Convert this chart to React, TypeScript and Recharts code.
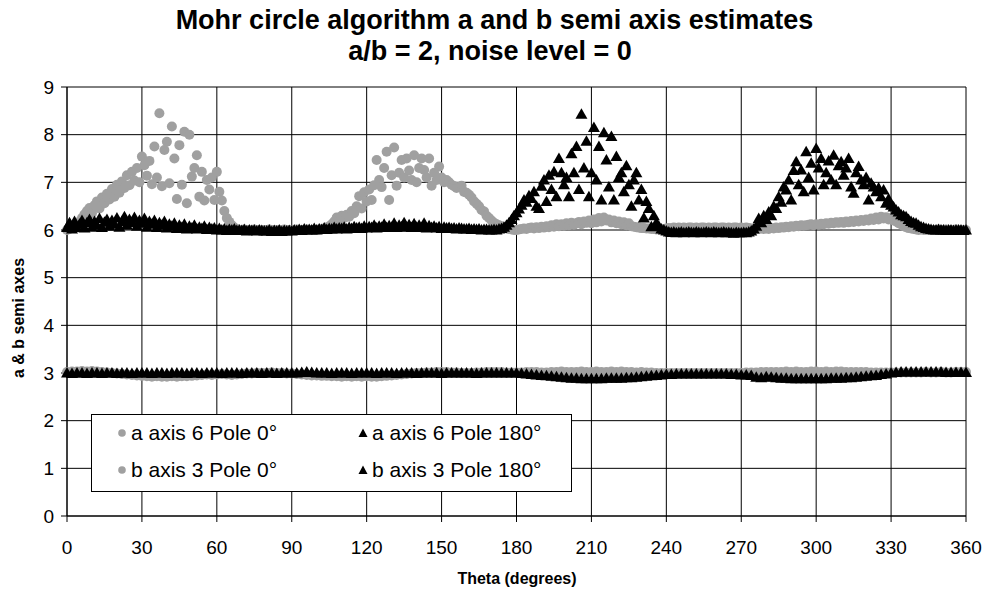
import React from 'react';
import { ScatterChart, Scatter, XAxis, YAxis, CartesianGrid, Legend } from 'recharts';

// theta categories: a series every degree, b series every 2 degrees
const thetaA: number[] = [];
for (let t = 0; t <= 360; t++) thetaA.push(t);
const thetaB: number[] = [];
for (let t = 0; t <= 360; t += 2) thetaB.push(t);

const xTicks = [0, 30, 60, 90, 120, 150, 180, 210, 240, 270, 300, 330, 360];
const yTicks = [0, 1, 2, 3, 4, 5, 6, 7, 8, 9];

// a axis 6, Pole 0 deg (grey circles)
const aPole0 = [
  6.00, 6.02, 6.04, 6.08, 6.12, 6.18, 6.25, 6.33, 6.40, 6.46,
  6.35, 6.52, 6.60, 6.45, 6.68, 6.56, 6.76, 6.64, 6.86, 6.70,
  6.95, 6.78, 7.02, 6.88, 7.15, 6.94, 7.22, 7.04, 7.30, 7.00,
  7.54, 7.36, 7.14, 7.45, 6.96, 7.75, 7.10, 8.45, 6.92, 7.68,
  7.85, 6.98, 8.17, 7.50, 6.65, 7.78, 6.95, 8.06, 6.56, 8.00,
  7.12, 7.30, 7.57, 6.70, 7.22, 6.62, 7.05, 6.85, 7.10, 6.63,
  7.22, 6.80, 6.62, 6.40, 6.25, 6.17, 6.10, 6.05, 6.02, 6.00,
  6.00, 6.01, 6.00, 5.99, 6.00, 6.01, 6.00, 6.00, 5.99, 6.00,
  6.00, 6.01, 6.00, 6.00, 5.99, 6.00, 6.00, 6.01, 6.00, 6.00,
  6.00, 6.00, 6.01, 6.00, 6.00, 6.00, 6.01, 6.00, 6.00, 6.00,
  6.00, 6.01, 6.02, 6.03, 6.05, 6.08, 6.12, 6.18, 6.26, 6.20,
  6.30, 6.25, 6.32, 6.28, 6.40, 6.35, 6.50, 6.71, 6.45, 6.79,
  6.60, 6.85, 6.63, 6.94, 7.47, 7.05, 6.90, 7.30, 7.64, 6.63,
  7.15, 7.73, 6.93, 7.20, 7.47, 7.10, 7.50, 7.25, 7.05, 7.57,
  7.00, 7.30, 7.50, 7.26, 7.10, 7.50, 6.93, 7.20, 7.05, 7.33,
  7.10, 7.00, 7.05, 7.00, 6.95, 6.92, 6.88, 6.90, 6.93, 6.80,
  6.78, 6.74, 6.68, 6.60, 6.55, 6.50, 6.42, 6.39, 6.30, 6.25,
  6.20, 6.15, 6.12, 6.10, 6.08, 6.05, 6.03, 6.02, 6.01, 6.00,
  6.00, 6.01, 6.02, 6.03, 6.02, 6.04, 6.05, 6.03, 6.06, 6.04,
  6.07, 6.05, 6.08, 6.06, 6.10, 6.07, 6.12, 6.08, 6.12, 6.09,
  6.14, 6.10, 6.15, 6.11, 6.14, 6.17, 6.12, 6.18, 6.15, 6.20,
  6.14, 6.22, 6.16, 6.25, 6.18, 6.26, 6.20, 6.22, 6.16, 6.20,
  6.14, 6.18, 6.12, 6.16, 6.10, 6.14, 6.08, 6.07, 6.06, 6.05,
  6.04, 6.04, 6.03, 6.03, 6.02, 6.02, 6.01, 6.02, 6.01, 6.02,
  6.03, 6.04, 6.03, 6.05, 6.04, 6.05, 6.04, 6.05, 6.04, 6.05,
  6.05, 6.04, 6.05, 6.04, 6.05, 6.05, 6.04, 6.05, 6.04, 6.05,
  6.05, 6.04, 6.05, 6.05, 6.04, 6.05, 6.04, 6.05, 6.05, 6.04,
  6.05, 6.04, 6.05, 6.04, 6.03, 6.03, 6.02, 6.02, 6.03, 6.02,
  6.03, 6.02, 6.04, 6.03, 6.05, 6.04, 6.06, 6.05, 6.07, 6.06,
  6.08, 6.07, 6.09, 6.08, 6.10, 6.09, 6.10, 6.11, 6.12, 6.10,
  6.12, 6.11, 6.13, 6.12, 6.14, 6.13, 6.15, 6.14, 6.16, 6.15,
  6.17, 6.15, 6.18, 6.16, 6.19, 6.17, 6.20, 6.18, 6.21, 6.19,
  6.22, 6.20, 6.24, 6.21, 6.26, 6.22, 6.28, 6.24, 6.27, 6.22,
  6.25, 6.20, 6.18, 6.14, 6.12, 6.08, 6.06, 6.04, 6.03, 6.02,
  6.01, 6.00, 6.01, 6.00, 6.00, 6.01, 6.00, 6.00, 6.00, 6.01,
  6.00, 6.00, 6.01, 6.00, 6.00, 6.00, 6.01, 6.00, 6.00, 6.00, 6.00,
];

// a axis 6, Pole 180 deg (black triangles)
const aPole180 = [
  6.05, 6.15, 6.02, 6.18, 6.05, 6.12, 6.20, 6.04, 6.15, 6.22,
  6.06, 6.18, 6.10, 6.24, 6.05, 6.16, 6.22, 6.08, 6.20, 6.12,
  6.25, 6.06, 6.18, 6.28, 6.10, 6.22, 6.15, 6.26, 6.08, 6.20,
  6.14, 6.24, 6.06, 6.18, 6.12, 6.20, 6.05, 6.15, 6.10, 6.18,
  6.04, 6.12, 6.08, 6.14, 6.03, 6.10, 6.05, 6.12, 6.02, 6.08,
  6.04, 6.10, 6.02, 6.06, 6.03, 6.08, 6.01, 6.05, 6.02, 6.04,
  6.00, 6.03, 6.00, 6.02, 5.99, 6.01, 6.00, 6.02, 5.99, 6.00,
  5.99, 6.01, 5.98, 6.00, 5.99, 6.00, 5.98, 6.00, 5.99, 5.98,
  5.98, 6.00, 5.97, 5.99, 5.98, 6.00, 5.97, 5.99, 5.98, 5.99,
  5.98, 6.00, 5.99, 6.01, 5.99, 6.02, 6.00, 6.01, 6.00, 6.03,
  6.00, 6.02, 6.01, 6.04, 6.01, 6.03, 6.02, 6.05, 6.02, 6.04,
  6.03, 6.06, 6.02, 6.05, 6.03, 6.07, 6.04, 6.06, 6.03, 6.08,
  6.04, 6.07, 6.05, 6.10, 6.04, 6.08, 6.06, 6.12, 6.05, 6.09,
  6.06, 6.14, 6.05, 6.10, 6.07, 6.15, 6.06, 6.11, 6.05, 6.13,
  6.06, 6.10, 6.05, 6.14, 6.04, 6.09, 6.05, 6.08, 6.04, 6.07,
  6.03, 6.06, 6.04, 6.05, 6.03, 6.04, 6.02, 6.04, 6.03, 6.02,
  6.02, 6.03, 6.01, 6.02, 6.01, 6.02, 6.00, 6.01, 6.01, 6.00,
  6.00, 6.01, 6.00, 6.02, 6.03, 6.06, 6.10, 6.15, 6.22, 6.30,
  6.36, 6.44, 6.52, 6.63, 6.58, 6.72, 6.66, 6.80, 6.50, 6.45,
  6.92, 7.05, 6.60, 7.15, 6.85, 7.22, 6.70, 7.50, 7.20, 6.95,
  7.10, 6.70, 7.60, 7.20, 7.75, 6.85, 8.43, 7.30, 7.86, 6.70,
  7.20, 8.15, 7.05, 7.75, 6.63, 8.04, 7.47, 6.90, 7.96, 6.63,
  7.54, 7.10, 7.20, 6.80, 7.35, 6.95, 6.50, 7.05, 7.20, 6.63,
  6.85, 6.25, 6.60, 6.45, 6.07, 6.30, 6.15, 6.08, 6.02, 6.00,
  5.98, 5.96, 5.95, 5.96, 5.94, 5.95, 5.96, 5.94, 5.95, 5.96,
  5.95, 5.94, 5.96, 5.95, 5.94, 5.95, 5.96, 5.95, 5.94, 5.96,
  5.95, 5.94, 5.95, 5.96, 5.94, 5.95, 5.94, 5.93, 5.95, 5.94,
  5.94, 5.95, 5.94, 5.96, 5.98, 6.02, 6.08, 6.24, 6.15, 6.30,
  6.22, 6.38, 6.30, 6.50, 6.45, 6.70, 6.58, 6.90, 6.84, 7.05,
  6.63, 7.25, 7.43, 6.95, 7.26, 6.80, 7.64, 7.10, 7.40, 6.84,
  7.71, 7.30, 7.50, 6.95, 7.20, 7.45, 7.05, 7.57, 6.95, 7.35,
  7.43, 7.15, 7.30, 7.50, 6.90, 6.77, 7.20, 7.33, 7.05, 6.95,
  7.10, 6.63, 6.98, 6.90, 6.80, 6.88, 6.70, 6.84, 6.56, 6.65,
  6.52, 6.48, 6.42, 6.38, 6.32, 6.30, 6.28, 6.22, 6.18, 6.15,
  6.14, 6.10, 6.07, 6.05, 6.03, 6.02, 6.01, 6.00, 6.00, 6.01,
  6.00, 6.00, 5.99, 6.00, 6.00, 5.99, 6.00, 6.00, 6.00, 5.99, 6.00,
];

// b axis 3, Pole 0 deg (grey circles), every 2 degrees
const bPole0 = [
  3.02, 3.03, 3.03, 3.04, 3.03, 3.04, 3.03, 3.02, 3.01, 3.00,
  2.99, 2.98, 2.97, 2.96, 2.95, 2.94, 2.93, 2.92, 2.93, 2.92,
  2.92, 2.93, 2.92, 2.93, 2.93, 2.94, 2.95, 2.96, 2.97, 2.96,
  2.97, 2.98, 2.97, 2.96, 2.97, 2.98, 2.99, 2.99, 3.00, 3.00,
  3.00, 3.01, 3.00, 3.00, 2.99, 2.99, 2.98, 2.97, 2.96, 2.95,
  2.95, 2.94, 2.94, 2.93, 2.93, 2.92, 2.93, 2.92, 2.93, 2.92,
  2.93, 2.92, 2.92, 2.93, 2.94, 2.95, 2.96, 2.97, 2.98, 2.99,
  3.00, 3.00, 3.01, 3.01, 3.02, 3.02, 3.02, 3.01, 3.01, 3.00,
  3.00, 3.00, 3.01, 3.01, 3.02, 3.02, 3.02, 3.02, 3.01, 3.01,
  3.01, 3.01, 3.02, 3.02, 3.02, 3.01, 3.01, 3.02, 3.02, 3.03,
  3.02, 3.02, 3.02, 3.03, 3.02, 3.02, 3.03, 3.02, 3.02, 3.03,
  3.02, 3.03, 3.02, 3.02, 3.01, 3.02, 3.01, 3.01, 3.00, 3.00,
  3.00, 3.00, 3.00, 3.00, 3.00, 3.00, 3.00, 3.00, 3.00, 3.00,
  3.00, 3.00, 3.00, 3.00, 3.00, 3.00, 3.01, 3.01, 3.01, 3.02,
  3.02, 3.02, 3.02, 3.02, 3.03, 3.02, 3.03, 3.02, 3.02, 3.03,
  3.03, 3.02, 3.03, 3.02, 3.03, 3.03, 3.02, 3.02, 3.02, 3.02,
  3.02, 3.01, 3.01, 3.01, 3.01, 3.01, 3.01, 3.01, 3.01, 3.01,
  3.01, 3.01, 3.02, 3.01, 3.01, 3.02, 3.01, 3.01, 3.02, 3.02,
  3.02,
];

// b axis 3, Pole 180 deg (black triangles), every 2 degrees
const bPole180 = [
  3.00, 2.99, 3.00, 3.00, 2.99, 3.00, 3.00, 2.99, 3.00, 3.00,
  2.99, 3.00, 3.00, 2.99, 3.00, 3.00, 3.00, 2.99, 3.00, 3.00,
  2.99, 3.00, 3.00, 3.00, 2.99, 3.00, 3.00, 2.99, 3.00, 3.00,
  3.00, 2.99, 3.00, 3.00, 3.00, 2.99, 3.00, 3.00, 3.00, 2.99,
  3.00, 3.00, 2.99, 3.00, 3.00, 3.00, 3.00, 3.01, 3.02, 3.01,
  3.00, 3.00, 3.00, 2.99, 3.00, 3.00, 3.00, 2.99, 3.00, 3.00,
  3.00, 3.00, 2.99, 3.00, 3.00, 3.00, 2.99, 3.00, 3.00, 3.00,
  2.99, 3.00, 3.00, 3.00, 3.00, 2.99, 3.00, 3.00, 3.00, 3.00,
  3.00, 3.00, 2.99, 3.00, 3.00, 3.00, 3.00, 3.00, 3.00, 3.00,
  3.00, 2.99, 2.98, 2.97, 2.96, 2.95, 2.94, 2.93, 2.92, 2.91,
  2.90, 2.89, 2.89, 2.88, 2.88, 2.88, 2.88, 2.88, 2.89, 2.89,
  2.89, 2.89, 2.90, 2.90, 2.91, 2.92, 2.93, 2.94, 2.95, 2.96,
  2.97, 2.97, 2.98, 2.98, 2.98, 2.98, 2.98, 2.98, 2.98, 2.98,
  2.98, 2.98, 2.98, 2.97, 2.97, 2.96, 2.96, 2.95, 2.91, 2.90,
  2.92, 2.91, 2.90, 2.89, 2.89, 2.88, 2.88, 2.88, 2.88, 2.88,
  2.88, 2.88, 2.88, 2.89, 2.89, 2.89, 2.90, 2.90, 2.91, 2.92,
  2.93, 2.94, 2.95, 2.97, 2.98, 3.00, 3.01, 3.02, 3.02, 3.02,
  3.02, 3.02, 3.02, 3.02, 3.02, 3.02, 3.01, 3.01, 3.01, 3.01,
  3.01,
];

const GREY = '#a0a0a0';
const FONT = 'Arial, "Liberation Sans", sans-serif';

const a0Data = thetaA.map((t, i) => ({ theta: t, v: aPole0[i] }));
const a180Data = thetaA.map((t, i) => ({ theta: t, v: aPole180[i] }));
const b0Data = thetaB.map((t, i) => ({ theta: t, v: bPole0[i] }));
const b180Data = thetaB.map((t, i) => ({ theta: t, v: bPole180[i] }));

const GreyDot = (props: any) => <circle cx={props.cx} cy={props.cy} r={5} fill={GREY} />;

const BlackTri = (props: any) => {
  const { cx, cy } = props;
  return <polygon points={`${cx},${cy - 6} ${cx + 6},${cy + 4.5} ${cx - 6},${cy + 4.5}`} fill="#000" />;
};

const legendItems = [
  { name: 'a axis 6 Pole 0°', tri: false, left: 30, top: 19 },
  { name: 'a axis 6 Pole 180°', tri: true, left: 271, top: 19 },
  { name: 'b axis 3 Pole 0°', tri: false, left: 30, top: 56 },
  { name: 'b axis 3 Pole 180°', tri: true, left: 271, top: 56 },
];

const LegendBox = () => (
  <div style={{ position: 'relative', width: 481, height: 78, border: '1px solid #000', background: '#fff', boxSizing: 'border-box', fontFamily: FONT }}>
    {legendItems.map((it) => (
      <div key={it.name} style={{ position: 'absolute', left: it.left - 5, top: it.top - 13, height: 24, display: 'flex', alignItems: 'center', whiteSpace: 'nowrap' }}>
        <svg width={10} height={10} style={{ marginRight: 4 }}>
          {it.tri
            ? <polygon points="5,0.5 9.5,9 0.5,9" fill="#000" />
            : <circle cx={5} cy={5} r={3.8} fill={GREY} />}
        </svg>
        <span style={{ fontSize: 21, color: '#000' }}>{it.name}</span>
      </div>
    ))}
  </div>
);

const App = () => {
  return (
    <div style={{ position: 'absolute', left: 0, top: 0, width: 989, height: 598, background: '#fff', fontFamily: FONT }}>
      <div style={{ position: 'absolute', left: 0, width: 989, top: 5, textAlign: 'center', fontWeight: 'bold', fontSize: 27, lineHeight: '30px' }}>
        Mohr circle algorithm a and b semi axis estimates
      </div>
      <div style={{ position: 'absolute', left: 0, width: 980, top: 36, textAlign: 'center', fontWeight: 'bold', fontSize: 27, lineHeight: '30px' }}>
        a/b = 2, noise level = 0
      </div>
      <div style={{ position: 'absolute', left: 19, top: 318, transform: 'translate(-50%, -50%) rotate(-90deg)', fontWeight: 'bold', fontSize: 16, whiteSpace: 'nowrap' }}>
        a &amp; b semi axes
      </div>
      <div style={{ position: 'absolute', left: 0, width: 1034, top: 570, textAlign: 'center', fontWeight: 'bold', fontSize: 16 }}>
        Theta (degrees)
      </div>
      <ScatterChart width={989} height={598} margin={{ top: 87, right: 23, bottom: 52, left: 7 }} style={{ position: 'absolute', left: 0, top: 0 }}>
        <CartesianGrid stroke="#000" strokeWidth={1} />
        <XAxis
          dataKey="theta"
          type="number"
          domain={[0, 360]}
          ticks={xTicks}
          interval={0}
          height={30}
          tickSize={6}
          tickMargin={19}
          stroke="#000"
          tick={{ fill: '#000', fontSize: 19, fontFamily: FONT }}
        />
        <YAxis
          dataKey="v"
          type="number"
          domain={[0, 9]}
          ticks={yTicks}
          interval={0}
          width={60}
          tickSize={6}
          tickMargin={7}
          stroke="#000"
          tick={{ fill: '#000', fontSize: 19, fontFamily: FONT }}
        />
        <Legend
          layout="horizontal"
          verticalAlign="middle"
          align="center"
          wrapperStyle={{ left: 91, top: 414, width: 481, height: 78 }}
          content={() => <LegendBox />}
        />
        <Scatter name="a axis 6 Pole 0°" data={a0Data} shape={GreyDot} isAnimationActive={false} />
        <Scatter name="b axis 3 Pole 0°" data={b0Data} shape={GreyDot} isAnimationActive={false} />
        <Scatter name="a axis 6 Pole 180°" data={a180Data} shape={BlackTri} isAnimationActive={false} />
        <Scatter name="b axis 3 Pole 180°" data={b180Data} shape={BlackTri} isAnimationActive={false} />
      </ScatterChart>
    </div>
  );
};

export default App;
